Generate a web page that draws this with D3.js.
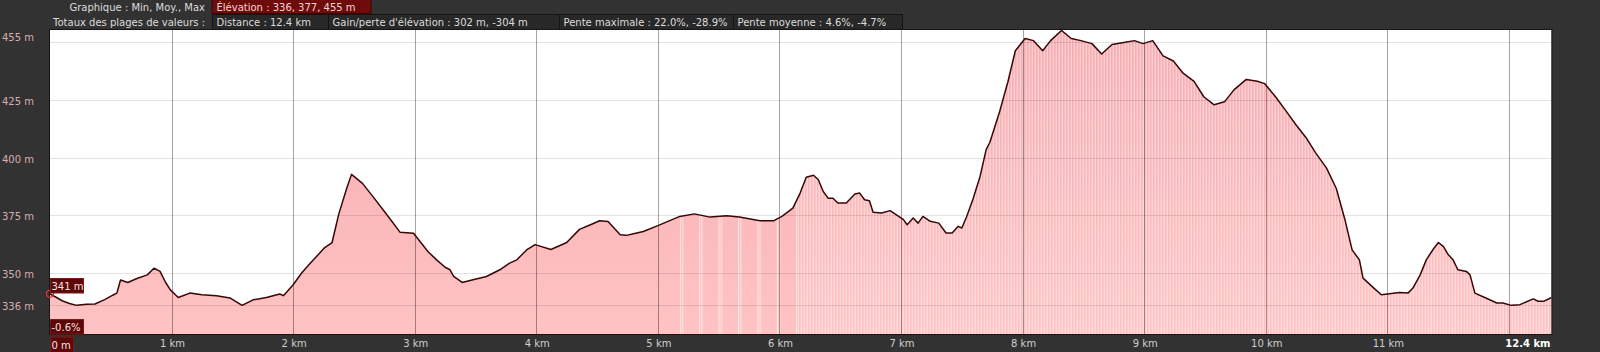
<!DOCTYPE html>
<html><head><meta charset="utf-8">
<script src="https://cdn.jsdelivr.net/npm/d3@7"></script>
<style>
html,body{margin:0;padding:0;background:#323232;overflow:hidden}
svg{display:block}
text{font-family:"DejaVu Sans",sans-serif;font-size:10px}
</style>
</head><body>
<svg id="c" width="1600" height="352"></svg>
<script>
// ---------- data ----------
const distanceKm = [0.00,0.05,0.10,0.16,0.22,0.30,0.37,0.45,0.52,0.55,0.58,0.64,0.71,0.80,0.855,0.905,0.95,0.99,1.055,1.15,1.25,1.37,1.48,1.58,1.67,1.78,1.89,1.92,2.00,2.07,2.12,2.165,2.26,2.32,2.375,2.44,2.48,2.57,2.65,2.76,2.88,2.99,3.11,3.18,3.25,3.29,3.32,3.39,3.48,3.59,3.70,3.78,3.84,3.92,3.99,4.12,4.25,4.355,4.455,4.52,4.59,4.69,4.74,4.80,4.88,5.00,5.18,5.30,5.43,5.565,5.67,5.84,5.95,6.02,6.11,6.17,6.22,6.28,6.32,6.36,6.40,6.44,6.48,6.55,6.62,6.66,6.70,6.74,6.77,6.84,6.91,7.02,7.05,7.10,7.14,7.18,7.24,7.31,7.37,7.42,7.47,7.50,7.54,7.59,7.65,7.70,7.73,7.81,7.88,7.94,8.02,8.09,8.165,8.23,8.32,8.40,8.48,8.57,8.65,8.735,8.82,8.92,8.99,9.07,9.155,9.24,9.32,9.41,9.49,9.575,9.66,9.74,9.84,9.93,9.99,10.08,10.16,10.245,10.33,10.41,10.50,10.58,10.65,10.71,10.77,10.80,10.88,10.95,11.10,11.17,11.21,11.27,11.32,11.38,11.42,11.46,11.50,11.54,11.58,11.65,11.68,11.72,11.81,11.90,11.95,12.02,12.09,12.20,12.24,12.29,12.35];
const elevationM = [341,339.5,338,336.8,336,336.5,336.6,338.5,340.5,341.3,347,345.9,347.5,349.2,352.1,350.7,346,342.7,339.4,341.3,340.6,340.2,339.2,336,338.4,339.4,340.9,340.2,344.9,350,353,355.6,361,363.2,375.5,386.6,392.7,388.8,383.5,376,367.6,367.2,359.2,355.7,352.5,351.4,348.5,345.9,347.1,348.5,351.4,354.3,355.7,360,362.3,360.2,363.2,368.9,371.1,372.6,372.3,366.6,366.3,367,368,370.5,374.5,375.6,374.2,374.8,374.2,372.6,372.6,374.5,378.1,384.6,391.5,392.3,390.4,385.3,382.4,382.4,380.3,380.3,384.2,384.6,381.7,381.3,376.3,376,377,373.1,370.9,373.8,371.6,374.5,372.4,371.6,367.3,367.3,370.2,369.5,374.5,381.7,391.8,403.4,406.5,419.7,433,446.2,451.5,450.6,446.2,450.6,455,451.5,450.6,449.3,444.8,448.9,449.7,450.6,449.3,450.6,444,441.8,436.5,433,426.3,422.8,424.1,429.4,433.8,433,432,426.3,420.6,414.4,408.7,402,395.4,386.6,373.3,360,355.7,347.8,343.9,340.6,341.6,341.3,343.5,349.2,355.7,360.5,363.2,361.5,358,355.7,351.4,350.7,349.2,341.3,339.2,337,337,336,336.3,338.8,337.8,337.8,339.4];
const totalKm = 12.35;
const yGridValues = [450,425,400,375,350,336];
const yLabelValues = [455,425,400,375,350,336];
const xGridValues = [1,2,3,4,5,6,7,8,9,10,11,12];
const xLabelValues = [1,2,3,4,5,6,7,8,9,10,11];
const endDistLabel = "12.4 km";
const sparseStripeKm = [5.18, 6.15];   // sampling gaps (sparse)
const denseStripeKm = [6.15, 12.35];   // sampling gaps (dense)
const header1Label = "Graphique : Min, Moy., Max";
const header1Value = "Élévation : 336, 377, 455 m";
const header2Label = "Totaux des plages de valeurs :";
const header2Values = ["Distance : 12.4 km","Gain/perte d'élévation : 302 m, -304 m","Pente maximale : 22.0%, -28.9%","Pente moyenne : 4.6%, -4.7%"];
const cursorElevLabel = "341 m";
const cursorSlopeLabel = "-0.6%";
const cursorDistLabel = "0 m";

// ---------- layout ----------
const L = 50, R = 1551.5, T = 30, B = 334;
const svg = d3.select("#c");
const x = d3.scaleLinear().domain([0, totalKm]).range([L, R]);
const y = d3.scaleLinear().domain([323.6, 455.2]).range([B, T]);
const pts = distanceKm.map((d,i)=>({km:d, el:elevationM[i]}));

const defs = svg.append("defs");
defs.append("clipPath").attr("id","plotclip").append("rect").attr("x",L).attr("y",T).attr("width",R-L).attr("height",B-T);
const grad = defs.append("linearGradient").attr("id","fillg").attr("x1",0).attr("x2",0).attr("gradientUnits","userSpaceOnUse")
  .attr("y1",T).attr("y2",B);
grad.append("stop").attr("offset","0").attr("stop-color","#f5abb0");
grad.append("stop").attr("offset","1").attr("stop-color","#ffc3c3");

const pd = defs.append("pattern").attr("id","dense").attr("patternUnits","userSpaceOnUse").attr("width",3).attr("height",10).attr("x",x(denseStripeKm[0]));
pd.append("rect").attr("x",0).attr("y",0).attr("width",1).attr("height",10).attr("fill","#fff").attr("fill-opacity",0.58);
const ps = defs.append("pattern").attr("id","sparse").attr("patternUnits","userSpaceOnUse").attr("width",19.4).attr("height",10).attr("x",x(sparseStripeKm[0]));
ps.append("rect").attr("x",0).attr("y",0).attr("width",1).attr("height",10).attr("fill","#fff").attr("fill-opacity",0.65);
ps.append("rect").attr("x",2.3).attr("y",0).attr("width",1).attr("height",10).attr("fill","#fff").attr("fill-opacity",0.65);
defs.append("clipPath").attr("id","clipDense").append("rect").attr("x",x(denseStripeKm[0])).attr("y",T).attr("width",x(denseStripeKm[1])-x(denseStripeKm[0])).attr("height",B-T);
defs.append("clipPath").attr("id","clipSparse").append("rect").attr("x",x(sparseStripeKm[0])).attr("y",T).attr("width",x(sparseStripeKm[1])-x(sparseStripeKm[0])).attr("height",B-T);

// header
svg.append("text").attr("x",205).attr("y",10.5).attr("text-anchor","end").attr("fill","#dcdcdc").text(header1Label);
svg.append("rect").attr("x",212).attr("y",-1).attr("width",159).attr("height",14.5).attr("fill","#6e0b0b").attr("stroke","#3a0505");
svg.append("text").attr("x",216.5).attr("y",10.5).attr("fill","#f3d6d6").text(header1Value);
svg.append("text").attr("x",205).attr("y",25.5).attr("text-anchor","end").attr("fill","#dcdcdc").text(header2Label);
const boxW = [116,231,174,169];
let bx = 212;
header2Values.forEach((t,i)=>{
  svg.append("rect").attr("x",bx+0.5).attr("y",14.5).attr("width",boxW[i]).attr("height",15).attr("fill","#282828").attr("stroke","#141414");
  svg.append("text").attr("x",bx+4.5).attr("y",25.5).attr("fill","#dcdcdc").text(t);
  bx += boxW[i];
});

// plot background
svg.append("rect").attr("x",L).attr("y",T).attr("width",R-L).attr("height",B-T).attr("fill","#fff");

const g = svg.append("g").attr("clip-path","url(#plotclip)");
const area = d3.area().x(d=>x(d.km)).y0(B).y1(d=>y(d.el));
g.append("path").datum(pts).attr("d",area).attr("fill","url(#fillg)");
g.append("path").datum(pts).attr("d",area).attr("fill","url(#sparse)").attr("clip-path","url(#clipSparse)");
g.append("path").datum(pts).attr("d",area).attr("fill","url(#dense)").attr("clip-path","url(#clipDense)");

// grid
g.selectAll(".hg").data(yGridValues).join("line").attr("x1",L).attr("x2",R)
  .attr("y1",d=>Math.round(y(d))+0.5).attr("y2",d=>Math.round(y(d))+0.5).attr("stroke","#000").attr("stroke-opacity",0.11);
g.selectAll(".vg").data(xGridValues).join("line").attr("y1",T).attr("y2",B)
  .attr("x1",d=>Math.round(x(d))+0.5).attr("x2",d=>Math.round(x(d))+0.5).attr("stroke","#000").attr("stroke-opacity",0.36);

// profile line
g.append("path").datum(pts).attr("d",d3.line().x(d=>x(d.km)).y(d=>y(d.el))).attr("fill","none").attr("stroke","#3a0606").attr("stroke-width",1.5).attr("stroke-linejoin","round");

// border
svg.append("rect").attr("x",L-0.5).attr("y",T-0.5).attr("width",R-L+1).attr("height",B-T+1).attr("fill","none").attr("stroke","#161616");

// y labels
svg.selectAll(".yl").data(yLabelValues).join("text").attr("x",2)
  .attr("y",d=>Math.max(y(d)+1.5,37.3)).attr("dominant-baseline","central").attr("fill","#d8aeb0").text(d=>d+" m");

// x labels
svg.selectAll(".xl").data(xLabelValues).join("text").attr("x",d=>x(d)+1).attr("y",347).attr("text-anchor","middle").attr("fill","#cfcfcf").text(d=>d+" km");
svg.append("text").attr("x",R-1).attr("y",347).attr("text-anchor","end").attr("fill","#ffffff").attr("font-weight","bold").text(endDistLabel);

// cursor
svg.append("circle").attr("cx",x(pts[0].km)).attr("cy",y(pts[0].el)).attr("r",3.5).attr("fill","none").attr("stroke","#e03535").attr("stroke-width",1.2);
function tag(px,py,w,h,t){
  svg.append("rect").attr("x",px+0.5).attr("y",py+0.5).attr("width",w).attr("height",h).attr("fill","#5c0808").attr("stroke","#7a1a1a");
  svg.append("text").attr("x",px+1.5).attr("y",py+h/2+1).attr("dominant-baseline","central").attr("fill","#f6e0e0").text(t);
}
tag(x(0), 278, 33, 14.5, cursorElevLabel);
tag(x(0), 319, 33, 14.5, cursorSlopeLabel);
tag(x(0), 336.5, 23, 15.5, cursorDistLabel);
</script>
</body></html>
